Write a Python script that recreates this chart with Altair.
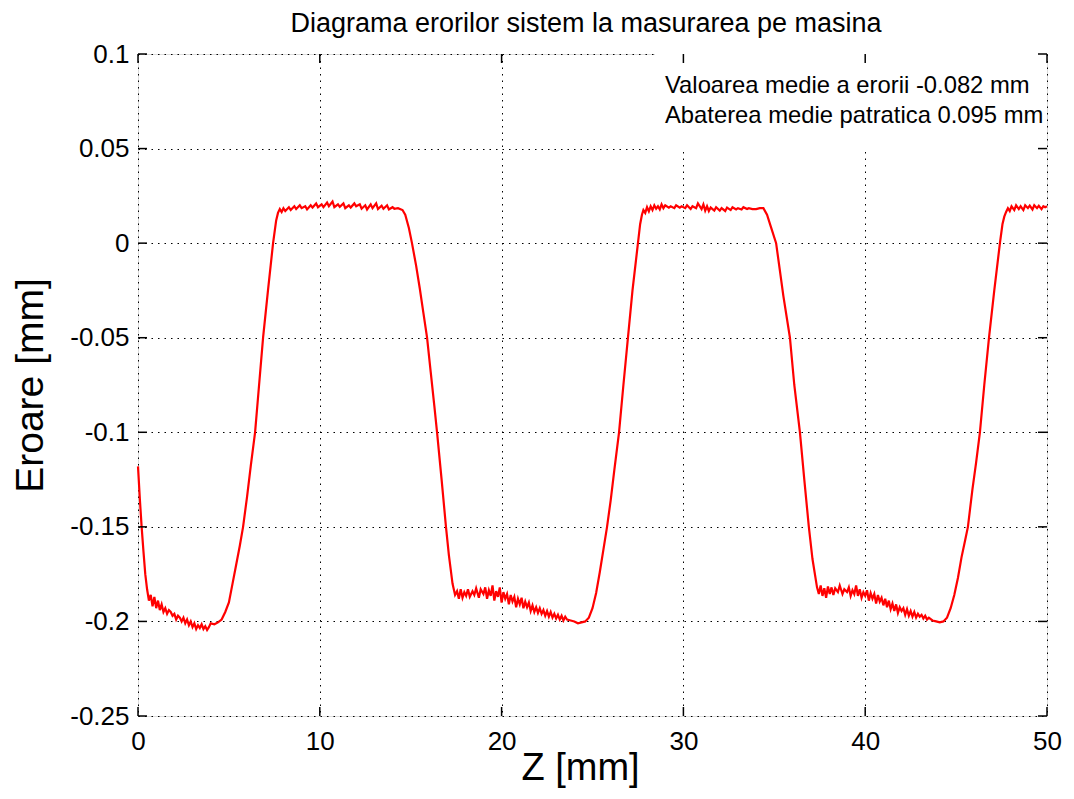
import altair as alt
import pandas as pd

# ---- data ----
z_mm = [
    0.0, 0.1, 0.2, 0.3, 0.4, 0.5, 0.6, 0.7, 0.8, 0.9, 1.0, 1.1, 1.2, 1.3, 1.4, 1.5, 1.6, 1.7, 1.8, 1.9,
    2.0, 2.1, 2.2, 2.3, 2.4, 2.5, 2.6, 2.7, 2.8, 2.9, 3.0, 3.1, 3.2, 3.3, 3.4, 3.5, 3.6, 3.7, 3.8,
    3.9, 4.0, 4.2, 4.4, 4.6,
    4.8, 5.0, 5.2, 5.4, 5.6, 5.78, 6.0, 6.2, 6.44, 6.66, 6.88, 7.15, 7.43, 7.6, 7.7,
    7.8, 7.9, 8.0, 8.1, 8.3, 8.4, 8.6, 8.7, 8.9, 9.0, 9.2, 9.3, 9.5, 9.6, 9.8, 9.9, 10.1, 10.2,
    10.4, 10.5, 10.7, 10.8, 11.0, 11.1, 11.3, 11.4, 11.6, 11.7, 11.9, 12.0, 12.2, 12.3, 12.5, 12.6,
    12.8, 12.9, 13.1, 13.2, 13.4, 13.5, 13.7, 13.8, 14.0, 14.1, 14.3, 14.55,
    14.7, 14.9, 15.07, 15.3, 15.5, 15.7, 15.9, 16.1, 16.3, 16.45, 16.7, 16.94, 17.1, 17.3, 17.44,
    17.55, 17.65, 17.75, 17.85, 17.95, 18.05, 18.15, 18.25, 18.4, 18.5, 18.6, 18.75, 18.85, 19.0,
    19.1, 19.2, 19.3, 19.4, 19.5, 19.6, 19.7, 19.8, 19.9, 20.0, 20.1, 20.2, 20.3, 20.4, 20.5, 20.6,
    20.7, 20.8, 20.9, 21.0, 21.1, 21.2, 21.3, 21.4, 21.5, 21.6, 21.7, 21.8, 21.9, 22.0, 22.1, 22.2,
    22.3, 22.4, 22.5, 22.6, 22.7, 22.8, 22.9, 23.0, 23.1, 23.2, 23.3, 23.4, 23.5, 23.6, 23.8,
    24.0, 24.2, 24.4, 24.6, 24.8,
    25.0, 25.2, 25.4, 25.6, 25.8, 26.0, 26.2, 26.46, 26.7, 26.95, 27.2, 27.5, 27.62, 27.72,
    27.8, 27.9, 28.0, 28.1, 28.2, 28.3, 28.4, 28.5, 28.6, 28.7, 28.8, 28.9, 29.0, 29.2, 29.3, 29.5,
    29.6, 29.8, 29.9, 30.1, 30.2, 30.4, 30.5, 30.7, 30.8, 31.0, 31.1, 31.2, 31.3, 31.4, 31.5, 31.7,
    31.8, 32.0, 32.1, 32.3, 32.4, 32.6, 32.7, 32.9, 33.0, 33.2, 33.3, 33.5, 33.6, 33.8, 34.0,
    34.2, 34.4,
    34.6, 34.8, 35.1, 35.3, 35.5, 35.86, 36.1, 36.41, 36.65, 36.9, 37.1, 37.35,
    37.45, 37.55, 37.65, 37.75, 37.85, 37.95, 38.05, 38.15, 38.25, 38.35, 38.5, 38.6, 38.75, 38.85,
    39.0, 39.1, 39.2, 39.3, 39.4, 39.5, 39.6, 39.7, 39.8, 39.9, 40.0, 40.1, 40.2, 40.3, 40.4, 40.5,
    40.6, 40.7, 40.8, 40.9, 41.0, 41.1, 41.2, 41.3, 41.4, 41.5, 41.6, 41.7, 41.8, 41.9, 42.0, 42.1,
    42.2, 42.3, 42.4, 42.5, 42.6, 42.7, 42.8, 42.9, 43.0, 43.1, 43.2, 43.3, 43.4, 43.5, 43.7,
    43.9, 44.1, 44.3, 44.5,
    44.7, 44.9, 45.1, 45.3, 45.5, 45.65, 45.9, 46.1, 46.31, 46.55, 46.81, 47.1, 47.41, 47.55, 47.65,
    47.75, 47.85, 47.95, 48.05, 48.2, 48.3, 48.45, 48.55, 48.7, 48.8, 48.95, 49.05, 49.2, 49.3,
    49.45, 49.55, 49.7, 49.8, 49.9, 50.0,
]
eroare_mm = [
    -0.118, -0.135, -0.150, -0.163, -0.175, -0.183, -0.189, -0.186, -0.192, -0.187, -0.193, -0.189,
    -0.194, -0.191, -0.195, -0.193, -0.196, -0.194, -0.195, -0.197,
    -0.196, -0.199, -0.197, -0.198, -0.200, -0.198, -0.201, -0.199, -0.202, -0.200, -0.203, -0.201,
    -0.204, -0.202, -0.2035, -0.2015, -0.204, -0.2025, -0.2045,
    -0.203, -0.201, -0.2015, -0.2005, -0.199,
    -0.195, -0.190, -0.180, -0.170, -0.160, -0.150, -0.134, -0.118, -0.100, -0.075, -0.050, -0.025,
    0.000, 0.012, 0.016,
    0.018, 0.0165, 0.0185, 0.017, 0.019, 0.0175, 0.0195, 0.018, 0.020, 0.0185, 0.0195, 0.0178,
    0.020, 0.0188, 0.021, 0.019, 0.0205, 0.019,
    0.0215, 0.0195, 0.022, 0.019, 0.0205, 0.0192, 0.021, 0.0185, 0.020, 0.0188, 0.021, 0.0195,
    0.0205, 0.0182, 0.020, 0.0178,
    0.0205, 0.0185, 0.021, 0.018, 0.0198, 0.0182, 0.020, 0.0178, 0.019, 0.0182, 0.0185, 0.0175,
    0.015, 0.008, 0.000, -0.012, -0.024, -0.037, -0.050, -0.068, -0.086, -0.100, -0.125, -0.150,
    -0.165, -0.180, -0.186,
    -0.184, -0.188, -0.183, -0.1875, -0.1845, -0.1865, -0.183, -0.187, -0.184, -0.186, -0.1825,
    -0.1875, -0.183, -0.1855,
    -0.182, -0.188, -0.1835, -0.1865, -0.181, -0.189, -0.184, -0.187, -0.182, -0.190, -0.1845,
    -0.188, -0.1855, -0.191, -0.186, -0.1895,
    -0.187, -0.1925, -0.188, -0.191, -0.1875, -0.193, -0.1895, -0.1925, -0.190, -0.1945, -0.1915,
    -0.195, -0.1925, -0.1955, -0.193, -0.196,
    -0.194, -0.197, -0.1945, -0.1975, -0.195, -0.198, -0.196, -0.1985, -0.1965, -0.199, -0.197,
    -0.1995, -0.1975, -0.199, -0.1995,
    -0.200, -0.201, -0.2005, -0.200, -0.198,
    -0.193, -0.185, -0.174, -0.162, -0.150, -0.136, -0.120, -0.100, -0.075, -0.050, -0.025, 0.000,
    0.010, 0.015,
    0.0175, 0.016, 0.019, 0.0168, 0.0195, 0.0175, 0.020, 0.0182, 0.0195, 0.0178, 0.0205, 0.0185,
    0.020, 0.0188, 0.0195, 0.0185,
    0.020, 0.0188, 0.0195, 0.0185, 0.020, 0.018, 0.0195, 0.0185, 0.021, 0.018, 0.0205, 0.0172,
    0.0195, 0.017, 0.0188, 0.0172,
    0.019, 0.0172, 0.0185, 0.017, 0.0188, 0.0175, 0.019, 0.0178, 0.0185, 0.0178, 0.019, 0.018,
    0.0185, 0.018, 0.018,
    0.0185, 0.0185,
    0.015, 0.009, 0.000, -0.014, -0.028, -0.050, -0.075, -0.100, -0.125, -0.150, -0.167, -0.182,
    -0.1855, -0.181, -0.1865, -0.1825, -0.1875, -0.1815, -0.1855, -0.182, -0.186, -0.1825,
    -0.1845, -0.181, -0.1855, -0.183,
    -0.1845, -0.182, -0.1865, -0.1835, -0.1855, -0.181, -0.1865, -0.183, -0.1875, -0.1845, -0.1865,
    -0.1835, -0.189, -0.185, -0.188, -0.1855,
    -0.1905, -0.186, -0.1895, -0.1875, -0.1915, -0.188, -0.1925, -0.189, -0.1935, -0.1905, -0.1945,
    -0.191, -0.1955, -0.1925, -0.1945, -0.193,
    -0.1965, -0.1935, -0.197, -0.1945, -0.1975, -0.195, -0.198, -0.196, -0.1975, -0.1965, -0.1985,
    -0.197, -0.199, -0.198, -0.1995,
    -0.200, -0.2005, -0.200, -0.198,
    -0.193, -0.186, -0.177, -0.166, -0.157, -0.150, -0.130, -0.116, -0.100, -0.075, -0.050, -0.025,
    0.000, 0.010, 0.014,
    0.0165, 0.0185, 0.017, 0.0195, 0.0175, 0.020, 0.018, 0.0195, 0.0175, 0.020, 0.0185, 0.0198,
    0.0178, 0.020, 0.0185, 0.0198, 0.018, 0.0195, 0.019, 0.0195,
]

x_ticks = [0, 10, 20, 30, 40, 50]
y_ticks = [0.1, 0.05, 0, -0.05, -0.1, -0.15, -0.2, -0.25]

title_text = "Diagrama erorilor sistem la masurarea pe masina"
note_lines = ["Valoarea medie a erorii -0.082 mm", "Abaterea medie patratica 0.095 mm"]
x_title = "Z [mm]"
y_title = "Eroare [mm]"

W, H = 909, 662
FONT = "Liberation Sans"

df = pd.DataFrame({"z": z_mm, "err": eroare_mm})
xt = pd.DataFrame({"v": x_ticks})
yt = pd.DataFrame({"v": y_ticks})

xscale = alt.Scale(domain=[0, 50], nice=False, zero=False)
yscale = alt.Scale(domain=[-0.25, 0.1], nice=False, zero=False)

x_axis = alt.Axis(
    values=x_ticks, title=x_title, grid=True, gridColor="black", gridDash=[1.5, 5],
    gridOpacity=1, gridWidth=1, ticks=False, domain=False, labelFont=FONT,
    labelFontSize=26, labelColor="black", labelPadding=12, labelFlush=False,
    titleFont=FONT, titleFontSize=38, titleFontWeight="normal", titleColor="black",
    titleX=442, titleY=52, titleBaseline="middle", titleAnchor="start", titleAlign="center",
)
y_axis = alt.Axis(
    values=y_ticks, title=y_title, grid=True, gridColor="black", gridDash=[1.5, 5],
    gridOpacity=1, gridWidth=1, ticks=False, domain=False, labelFont=FONT,
    labelFontSize=26, labelColor="black", labelPadding=9, labelFlush=False,
    labelExpr="datum.value < 0 ? '-' + format(-datum.value, '') : format(datum.value, '')",
    titleFont=FONT, titleFontSize=39, titleFontWeight="normal", titleColor="black",
    titleX=-108, titleY=331, titleAngle=-90, titleBaseline="middle", titleAlign="center",
    titleAnchor="start",
)

base_line = alt.Chart(df).mark_line(color="#ff0000", strokeWidth=2.2).encode(
    x=alt.X("z:Q", scale=xscale, axis=x_axis),
    y=alt.Y("err:Q", scale=yscale, axis=y_axis),
)

box = alt.Chart(pd.DataFrame({"a": [0]})).mark_rect(color="white").encode(
    x=alt.value(517), x2=alt.value(W), y=alt.value(0), y2=alt.value(97)
)

tick_style = dict(color="black", strokeWidth=1.5)
left_ticks = alt.Chart(yt).mark_rule(**tick_style).encode(
    y=alt.Y("v:Q", scale=yscale), x=alt.value(0), x2=alt.value(9))
right_ticks = alt.Chart(yt).mark_rule(**tick_style).encode(
    y=alt.Y("v:Q", scale=yscale), x=alt.value(W - 9), x2=alt.value(W))
bottom_ticks = alt.Chart(xt).mark_rule(**tick_style).encode(
    x=alt.X("v:Q", scale=xscale), y=alt.value(H - 9), y2=alt.value(H))
top_ticks = alt.Chart(xt).mark_rule(**tick_style).encode(
    x=alt.X("v:Q", scale=xscale), y=alt.value(0), y2=alt.value(9))

note1 = alt.Chart(pd.DataFrame({"t": [note_lines[0]]})).mark_text(
    font=FONT, fontSize=23.8, color="black", align="left", baseline="alphabetic"
).encode(text="t:N", x=alt.value(527), y=alt.value(39))
note2 = alt.Chart(pd.DataFrame({"t": [note_lines[1]]})).mark_text(
    font=FONT, fontSize=23.8, color="black", align="left", baseline="alphabetic"
).encode(text="t:N", x=alt.value(527), y=alt.value(69))

title = alt.Chart(pd.DataFrame({"t": [title_text]})).mark_text(
    font=FONT, fontSize=27, color="black", align="center", baseline="alphabetic"
).encode(text="t:N", x=alt.value(448), y=alt.value(-22))

chart = alt.layer(
    base_line, box, left_ticks, right_ticks, bottom_ticks, top_ticks, note1, note2, title
).properties(
    width=W, height=H,
    autosize=alt.AutoSizeParams(type="none"),
    padding={"left": 130, "top": 46, "right": 18, "bottom": 73},
).configure_view(
    stroke="#222222", strokeWidth=1.2
).configure(background="white")

chart.save("out.html", embed_options={"renderer": "svg", "actions": False})
